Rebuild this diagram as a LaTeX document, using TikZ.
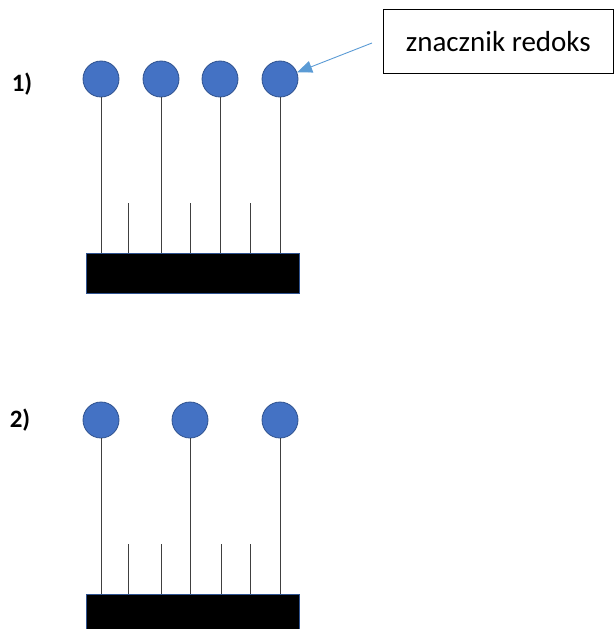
\documentclass[tikz,border=0pt]{standalone}
\usepackage{fontspec}
\setmainfont{Carlito}
\usetikzlibrary{arrows.meta}
\definecolor{cfill}{HTML}{4472C4}
\definecolor{cdraw}{HTML}{2F528F}
\definecolor{arrc}{HTML}{5B9BD5}
\begin{document}
\begin{tikzpicture}[x=1pt,y=-1pt,
 dot/.style={circle,fill=cfill,draw=cdraw,line width=0.8pt,minimum size=36pt,inner sep=0pt},
 barbox/.style={fill=black,draw=cdraw,line width=0.6pt,minimum width=213pt,inner sep=0pt,anchor=north west},
 stem/.style={draw=black!75,line width=0.7pt},
 lbl/.style={font=\bfseries\fontsize{25}{30}\selectfont},
 callout/.style={draw=black,line width=0.6pt,minimum width=230pt,minimum height=64pt,inner sep=0pt,anchor=north west,font=\fontsize{29}{34}\selectfont},
 pointer/.style={draw=arrc,line width=0.9pt,-{Triangle[length=15pt,width=12pt]}}]
\useasboundingbox (0,0) rectangle (614,629);
% panel 1
\node[lbl] (l1) at (22,84) {1)};
\node[barbox,minimum height=40pt] (b1) at (86,253) {};
\foreach \x [count=\i] in {101,161,220,280} {
  \node[dot] (c1\i) at (\x,79) {};
  \draw[stem] (c1\i.south) -- (c1\i.south |- b1.north);
}
\foreach \x [count=\i] in {128,190,250} {
  \coordinate (s1\i) at (\x,203);
  \draw[stem] (s1\i) -- (s1\i |- b1.north);
}
% callout
\node[callout] (box) at (383,9) {znacznik redoks};
\coordinate (a0) at (372,43);
\draw[pointer] (a0) -- (c14);
% panel 2
\node[lbl] (l2) at (20,420) {2)};
\node[barbox,minimum height=40pt] (b2) at (86,594) {};
\foreach \x [count=\i] in {101,190,280} {
  \node[dot] (c2\i) at (\x,420) {};
  \draw[stem] (c2\i.south) -- (c2\i.south |- b2.north);
}
\foreach \x [count=\i] in {128,161,221,250} {
  \coordinate (s2\i) at (\x,544);
  \draw[stem] (s2\i) -- (s2\i |- b2.north);
}
\end{tikzpicture}
\end{document}
